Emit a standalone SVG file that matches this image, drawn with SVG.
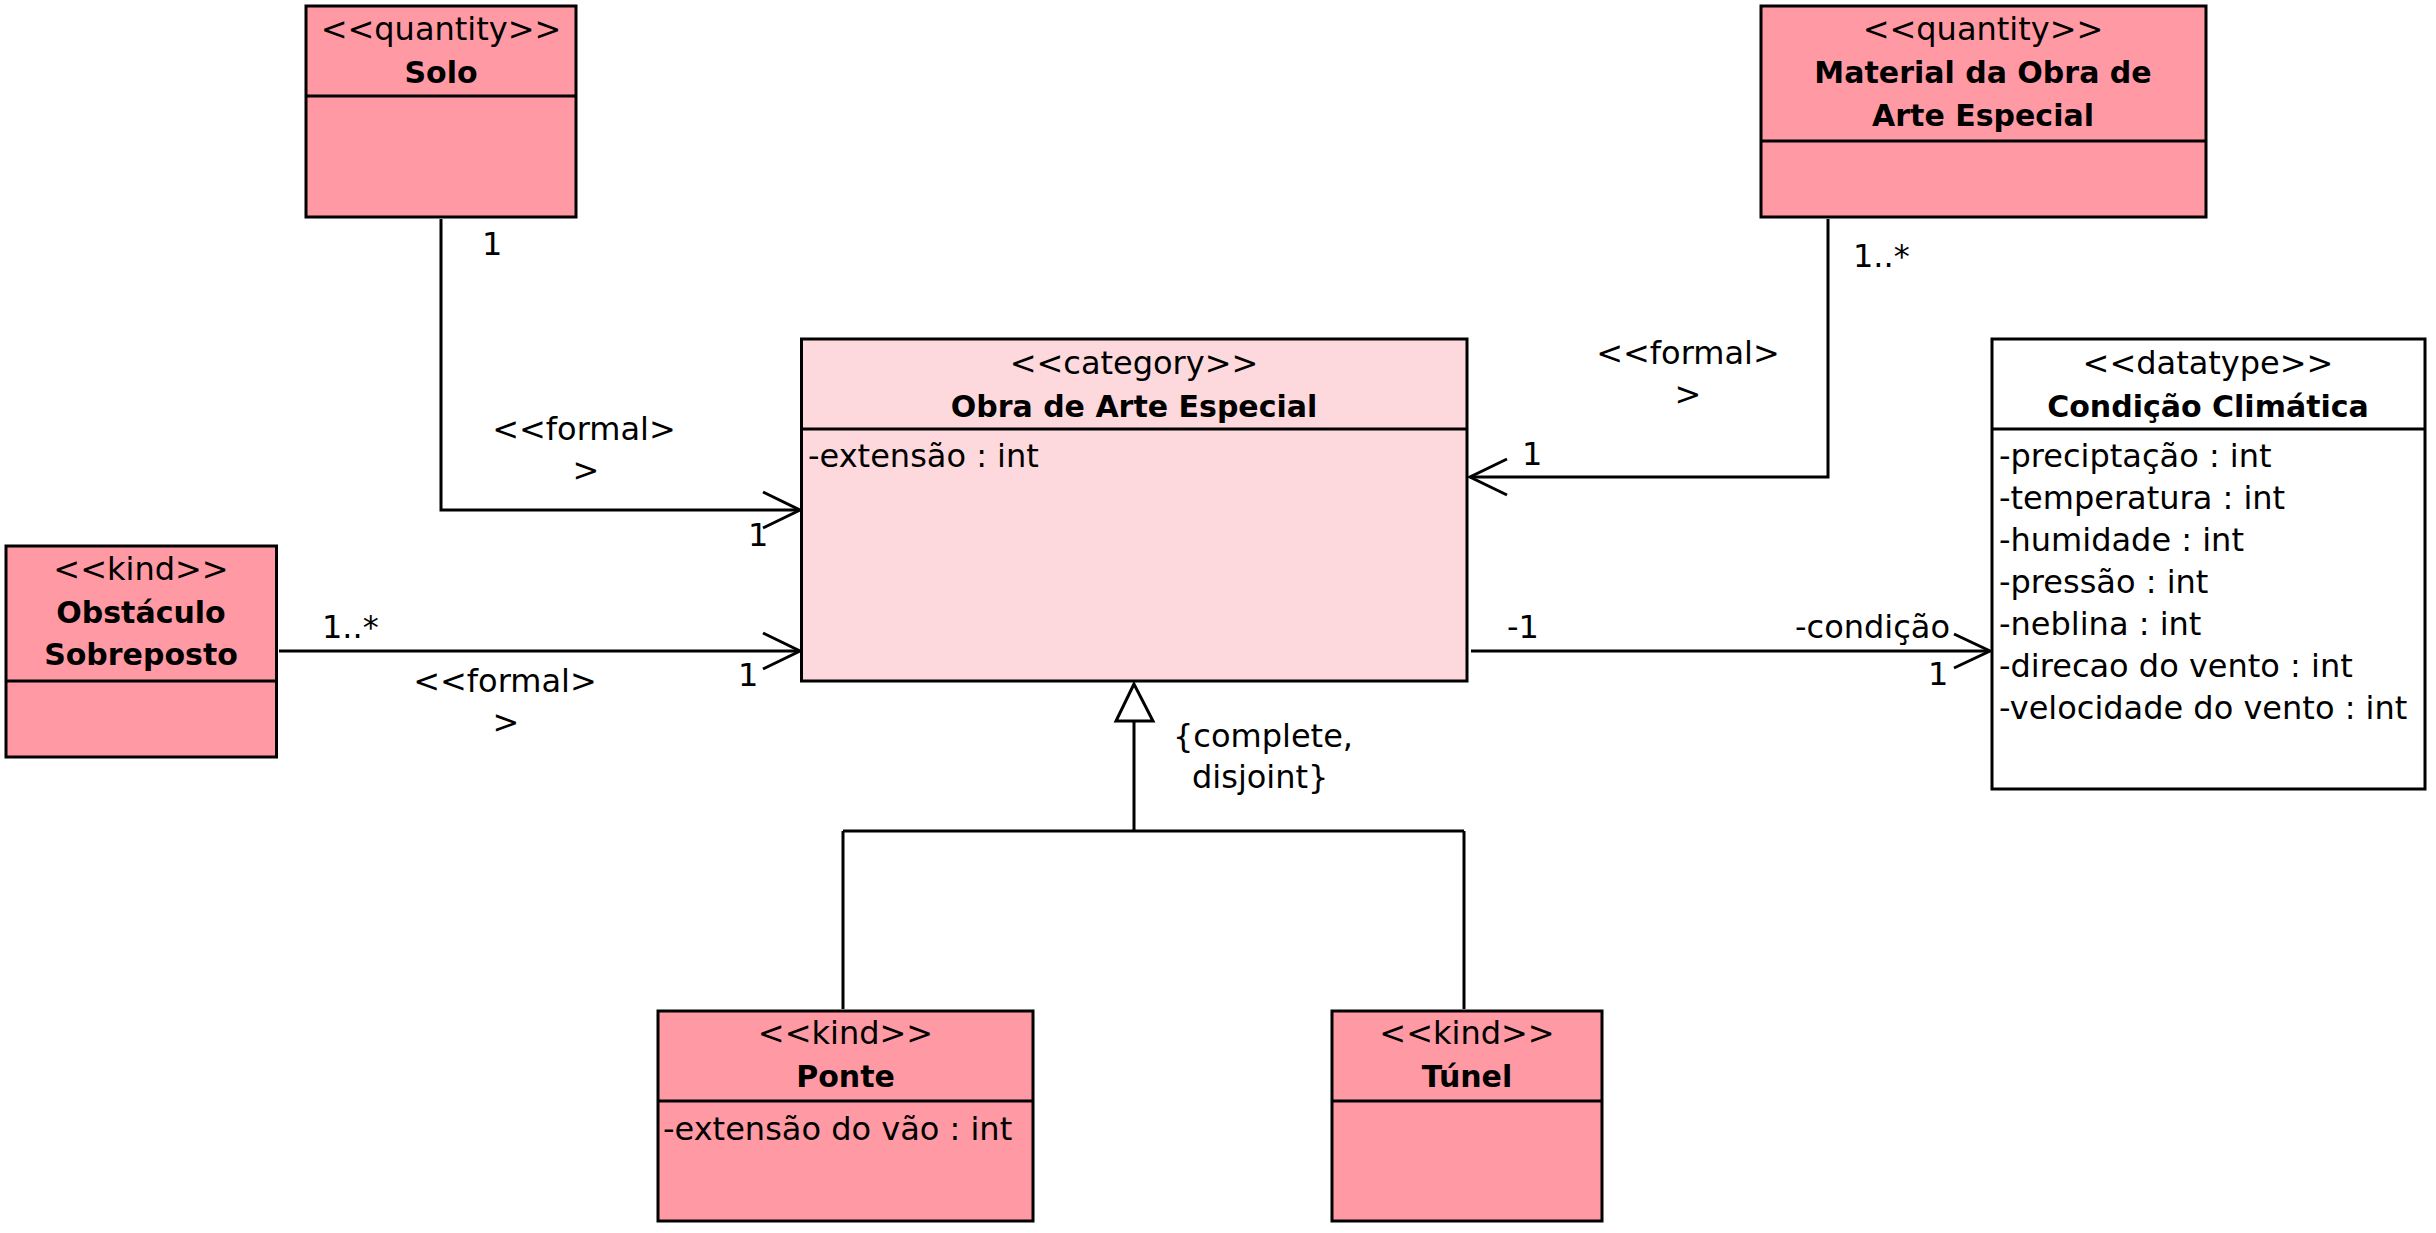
<svg xmlns="http://www.w3.org/2000/svg" width="2436" height="1233" viewBox="0 0 2436 1233">
<style>
.box{stroke:#000;stroke-width:3}
.dk{fill:#FF99A3}
.lt{fill:#FDD8DC}
.wh{fill:#fff}
.ln{stroke:#000;stroke-width:3;fill:none}
text{font-family:"DejaVu Sans","Liberation Sans",sans-serif;font-size:32px;fill:#000}
.b{font-weight:bold;font-size:30px}
.c{text-anchor:middle}
.e{text-anchor:end}
</style>
<rect width="2436" height="1233" fill="#fff"/>
<g id="connectors">
  <path class="ln" d="M441 219 V510 H799"/>
  <path class="ln" d="M763 492 L800 510 L763 528"/>
  <path class="ln" d="M279 651 H799"/>
  <path class="ln" d="M763 633 L800 651 L763 669"/>
  <path class="ln" d="M1828 219 V477 H1470"/>
  <path class="ln" d="M1507 459 L1470 477 L1507 495"/>
  <path class="ln" d="M1471 651 H1989"/>
  <path class="ln" d="M1954 634 L1990 651 L1954 668"/>
  <path class="ln" d="M1134 721 V831 M843 831 H1464 M843 831 V1009 M1464 831 V1009"/>
  <polygon points="1134,684 1116,721 1153,721" fill="#fff" stroke="#000" stroke-width="3"/>
  <text x="482" y="255">1</text>
  <text class="c" x="584" y="440">&lt;&lt;formal&gt;</text>
  <text class="c" x="586" y="481">&gt;</text>
  <text x="748" y="546">1</text>
  <text x="322" y="638">1..*</text>
  <text class="c" x="505" y="692">&lt;&lt;formal&gt;</text>
  <text class="c" x="506" y="733">&gt;</text>
  <text x="738" y="686">1</text>
  <text x="1853" y="267">1..*</text>
  <text class="c" x="1688" y="364">&lt;&lt;formal&gt;</text>
  <text class="c" x="1688" y="405">&gt;</text>
  <text x="1522" y="465">1</text>
  <text x="1507" y="638">-1</text>
  <text class="e" x="1950" y="638">-condição</text>
  <text x="1928" y="685">1</text>
  <text x="1173" y="747">{complete,</text>
  <text x="1192" y="788">disjoint}</text>
</g>
<g id="solo">
  <rect class="box dk" x="306" y="6" width="270" height="211"/>
  <line class="ln" x1="306" y1="96" x2="576" y2="96"/>
  <text class="c" x="441" y="40">&lt;&lt;quantity&gt;&gt;</text>
  <text class="c b" x="441" y="83">Solo</text>
</g>
<g id="material">
  <rect class="box dk" x="1761" y="6" width="445" height="211"/>
  <line class="ln" x1="1761" y1="141" x2="2206" y2="141"/>
  <text class="c" x="1983" y="40">&lt;&lt;quantity&gt;&gt;</text>
  <text class="c b" x="1983" y="83">Material da Obra de</text>
  <text class="c b" x="1983" y="126">Arte Especial</text>
</g>
<g id="obra">
  <rect class="box lt" x="801.5" y="339" width="665.5" height="342"/>
  <line class="ln" x1="801.5" y1="429" x2="1467" y2="429"/>
  <text class="c" x="1134" y="374">&lt;&lt;category&gt;&gt;</text>
  <text class="c b" x="1134" y="417">Obra de Arte Especial</text>
  <text x="808" y="467">-extensão : int</text>
</g>
<g id="condicao">
  <rect class="box wh" x="1992" y="339" width="433" height="450"/>
  <line class="ln" x1="1992" y1="429" x2="2425" y2="429"/>
  <text class="c" x="2208" y="374">&lt;&lt;datatype&gt;&gt;</text>
  <text class="c b" x="2208" y="417">Condição Climática</text>
  <text x="1999" y="467">-preciptação : int</text>
  <text x="1999" y="509">-temperatura : int</text>
  <text x="1999" y="551">-humidade : int</text>
  <text x="1999" y="593">-pressão : int</text>
  <text x="1999" y="635">-neblina : int</text>
  <text x="1999" y="677">-direcao do vento : int</text>
  <text x="1999" y="719">-velocidade do vento : int</text>
</g>
<g id="obstaculo">
  <rect class="box dk" x="6" y="546" width="270.5" height="211"/>
  <line class="ln" x1="6" y1="681" x2="276.5" y2="681"/>
  <text class="c" x="141" y="580">&lt;&lt;kind&gt;&gt;</text>
  <text class="c b" x="141" y="623">Obstáculo</text>
  <text class="c b" x="141" y="665">Sobreposto</text>
</g>
<g id="ponte">
  <rect class="box dk" x="658" y="1011" width="375" height="210"/>
  <line class="ln" x1="658" y1="1101" x2="1033" y2="1101"/>
  <text class="c" x="845.5" y="1044">&lt;&lt;kind&gt;&gt;</text>
  <text class="c b" x="845.5" y="1087">Ponte</text>
  <text x="663" y="1140">-extensão do vão : int</text>
</g>
<g id="tunel">
  <rect class="box dk" x="1332" y="1011" width="270" height="210"/>
  <line class="ln" x1="1332" y1="1101" x2="1602" y2="1101"/>
  <text class="c" x="1467" y="1044">&lt;&lt;kind&gt;&gt;</text>
  <text class="c b" x="1467" y="1087">Túnel</text>
</g>
</svg>
